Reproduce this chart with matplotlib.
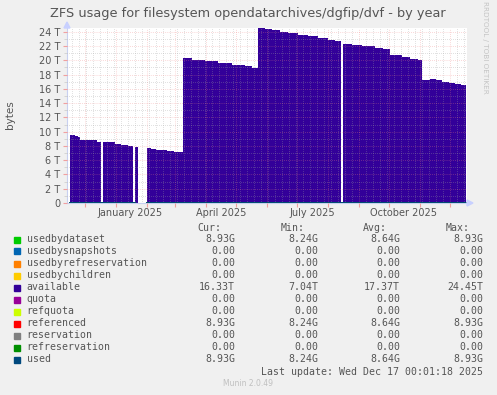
import numpy as np
import pandas as pd
import matplotlib
matplotlib.use("Agg")
import matplotlib.pyplot as plt
import matplotlib.dates as mdates
from matplotlib.ticker import MultipleLocator, FuncFormatter

# readings of "available" (TiB); nan = no data
dates = pd.to_datetime([
    "2024-11-16", "2024-11-21", "2024-11-24", "2024-11-26", "2024-12-11",
    "2024-12-13", "2024-12-17", "2024-12-19", "2024-12-31", "2025-01-06",
    "2025-01-13", "2025-01-18", "2025-01-20", "2025-01-23", "2025-02-01",
    "2025-02-05", "2025-02-10", "2025-02-21", "2025-02-28", "2025-03-09",
    "2025-03-18", "2025-03-31", "2025-04-13", "2025-04-27", "2025-05-10",
    "2025-05-17", "2025-05-23", "2025-05-30", "2025-06-06", "2025-06-14",
    "2025-06-22", "2025-07-02", "2025-07-12", "2025-07-22", "2025-08-01",
    "2025-08-08", "2025-08-14", "2025-08-16", "2025-08-25", "2025-09-04",
    "2025-09-17", "2025-09-25", "2025-10-02", "2025-10-14", "2025-10-22",
    "2025-10-30", "2025-11-03", "2025-11-07", "2025-11-11", "2025-11-17",
    "2025-11-23", "2025-11-30", "2025-12-06", "2025-12-12", "2025-12-17",
])
available = [
    9.52, 9.38, 9.20, 8.88, 8.78,
    8.59, np.nan, 8.50, 8.26, 8.12,
    7.98, np.nan, 7.84, np.nan, 7.75,
    7.56, 7.42, 7.24, 7.10, 20.35,
    20.07, 19.90, 19.65, 19.37, 19.14,
    18.95, 24.50, 24.35, 24.23, 24.00,
    23.80, 23.60, 23.40, 23.15, 22.90,
    22.65, np.nan, 22.27, 22.12, 21.99,
    21.70, 21.55, 20.70, 20.45, 20.25,
    19.98, 17.27, 17.20, 17.40, 17.20,
    16.95, 16.85, 16.70, 16.55, 16.33,
]
# used (GiB), only missing in the long January gap
used = [
    8.24, 8.25, 8.27, 8.28, 8.30,
    8.31, 8.32, 8.33, 8.35, 8.36,
    8.37, 8.38, 8.39, np.nan, 8.40,
    8.41, 8.42, 8.44, 8.45, 8.47,
    8.49, 8.51, 8.53, 8.55, 8.57,
    8.58, 8.60, 8.62, 8.64, 8.66,
    8.68, 8.70, 8.72, 8.74, 8.76,
    8.77, 8.78, 8.79, 8.80, 8.81,
    8.82, 8.83, 8.84, 8.85, 8.86,
    8.87, 8.88, 8.89, 8.90, 8.90,
    8.91, 8.91, 8.92, 8.92, 8.93,
]

names = ["usedbydataset", "usedbysnapshots", "usedbyrefreservation", "usedbychildren",
         "available", "quota", "refquota", "referenced", "reservation",
         "refreservation", "used"]
colors = ["#00cc00", "#0066b3", "#ff8000", "#ffcc00", "#330099", "#990099",
          "#ccff00", "#ff0000", "#808080", "#008f00", "#00487d"]
cur = ["8.93G", "0.00", "0.00", "0.00", "16.33T", "0.00", "0.00", "8.93G", "0.00", "0.00", "8.93G"]
vmin = ["8.24G", "0.00", "0.00", "0.00", "7.04T", "0.00", "0.00", "8.24G", "0.00", "0.00", "8.24G"]
vavg = ["8.64G", "0.00", "0.00", "0.00", "17.37T", "0.00", "0.00", "8.64G", "0.00", "0.00", "8.64G"]
vmax = ["8.93G", "0.00", "0.00", "0.00", "24.45T", "0.00", "0.00", "8.93G", "0.00", "0.00", "8.93G"]

W, H = 497, 395
BG = "#f0f0f0"
TXT = "#555555"

fig = plt.figure(figsize=(W / 100, H / 100), dpi=100, facecolor=BG)
ax = fig.add_axes([67 / W, (H - 203) / H, 400 / W, (203 - 27.5) / H])
ax.set_facecolor("white")

avail = np.array(available, dtype=float)
ax.fill_between(dates, 0, np.nan_to_num(avail), step="post", color="#330099",
                linewidth=0, antialiased=False, zorder=2)

used_t = np.array(used, dtype=float) / 1024
for name, c in zip(names, colors):
    if name == "available":
        continue
    if name in ("usedbydataset", "referenced", "used"):
        y = used_t
    else:
        y = used_t * 0
    ax.plot(dates, y, color=c, lw=1.2, zorder=3)

x0 = pd.Timestamp("2024-11-13")
x1 = pd.Timestamp("2025-12-18")
ax.set_xlim(x0, x1)
ax.set_ylim(0, 24.6)

# grid: red every month / 2T, grey every week / 1T
ax.xaxis.set_major_locator(mdates.MonthLocator())
ax.xaxis.set_minor_locator(mdates.WeekdayLocator(byweekday=mdates.MO))
ax.yaxis.set_major_locator(MultipleLocator(2))
ax.yaxis.set_minor_locator(MultipleLocator(1))
ax.grid(which="major", color="#f08080", linestyle=(0, (1, 2)), lw=0.5, alpha=0.6, zorder=4)
ax.grid(which="minor", color="#a0a0a0", linestyle=(0, (1, 2)), lw=0.72, alpha=0.3,
        snap=True, antialiased=False, zorder=4)
ax.set_axisbelow(False)
ax.xaxis.set_major_formatter(plt.NullFormatter())
ax.tick_params(axis="x", which="major", length=3, color="#f0a0a0", direction="out")
ax.tick_params(axis="x", which="minor", length=0)
ax.tick_params(axis="y", which="major", length=3, color="#f0a0a0", labelsize=7,
               labelcolor=TXT, pad=2)
ax.tick_params(axis="y", which="minor", length=2, color="#d0d0d0")
ax.yaxis.set_major_formatter(FuncFormatter(lambda v, p: "0" if v == 0 else "%g T" % v))

# month labels at mid month
for lab, d in [("January 2025", "2025-01-15"), ("April 2025", "2025-04-16"),
               ("July 2025", "2025-07-16"), ("October 2025", "2025-10-16")]:
    ax.text(pd.Timestamp(d), -0.028, lab, transform=ax.get_xaxis_transform(),
            ha="center", va="top", fontsize=7, color=TXT)

for s in ["top", "right"]:
    ax.spines[s].set_visible(False)
ax.spines["left"].set_color("#c8d0f0")
ax.spines["bottom"].set_color("#c8d0f0")

# axis arrows
fig.patches.append(plt.Polygon([[467 / W, 1 - 200 / H], [473 / W, 1 - 203 / H], [467 / W, 1 - 206 / H]],
                               closed=True, color="#c8d0ff", transform=fig.transFigure))
fig.patches.append(plt.Polygon([[64 / W, 1 - 28 / H], [67 / W, 1 - 22 / H], [70 / W, 1 - 28 / H]],
                               closed=True, color="#c8d0ff", transform=fig.transFigure))

fig.text(248 / W, 1 - 13 / H, "ZFS usage for filesystem opendatarchives/dgfip/dvf - by year",
         ha="center", va="center", fontsize=9.3, color=TXT)
fig.text(10 / W, 1 - 115 / H, "bytes", rotation=90, ha="center", va="center",
         fontsize=7.5, color=TXT)
fig.text(485 / W, 1 - 47 / H, "RRDTOOL / TOBI OETIKER", rotation=270, ha="center",
         va="center", fontsize=5.2, color="#c4c4c4")

mono = dict(family="DejaVu Sans Mono", fontsize=7.1, color=TXT, va="center")
fig.text(221.7 / W, 1 - 227.7 / H, "Cur:", ha="right", **mono)
fig.text(305 / W, 1 - 227.7 / H, "Min:", ha="right", **mono)
fig.text(387 / W, 1 - 227.7 / H, "Avg:", ha="right", **mono)
fig.text(470 / W, 1 - 227.7 / H, "Max:", ha="right", **mono)
for i, name in enumerate(names):
    y = 1 - (239.5 + 12 * i) / H
    fig.patches.append(plt.Rectangle((14 / W, y - 3 / H), 6 / W, 6 / H, color=colors[i],
                                     transform=fig.transFigure))
    fig.text(26.5 / W, y, name, ha="left", **mono)
    fig.text(235 / W, y, cur[i], ha="right", **mono)
    fig.text(318 / W, y, vmin[i], ha="right", **mono)
    fig.text(400 / W, y, vavg[i], ha="right", **mono)
    fig.text(483 / W, y, vmax[i], ha="right", **mono)
fig.text(483 / W, 1 - 371.7 / H, "Last update: Wed Dec 17 00:01:18 2025", ha="right", **mono)
fig.text(248 / W, 1 - 383.7 / H, "Munin 2.0.49", ha="center", va="center",
         fontsize=5.5, color="#c0c0c0")

fig.savefig("out.png", dpi=100, facecolor=BG)
